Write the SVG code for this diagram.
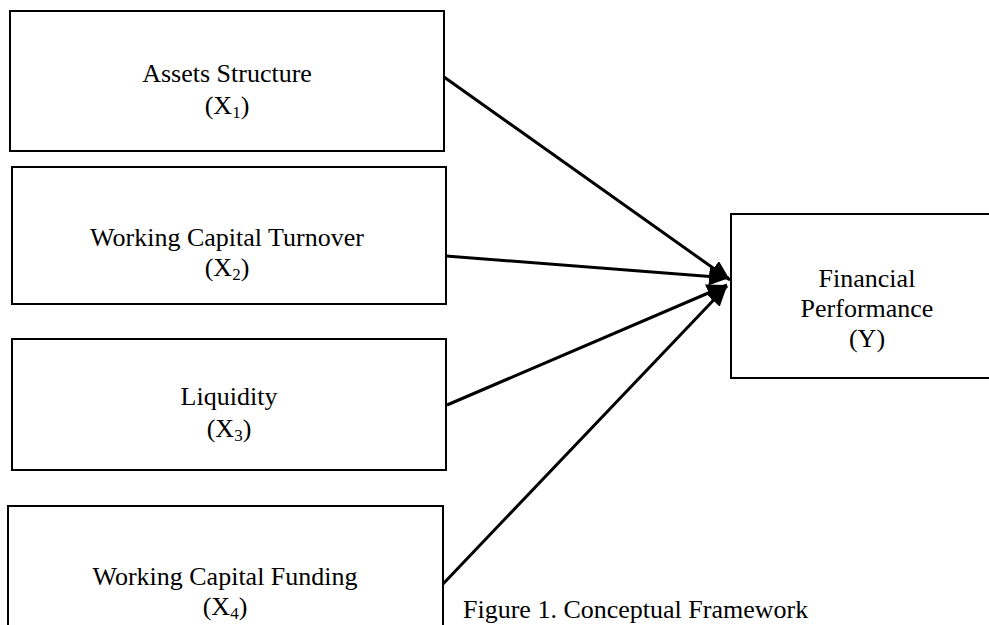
<svg xmlns="http://www.w3.org/2000/svg" width="989" height="625" viewBox="0 0 989 625">
<style>
.box{fill:#fff;stroke:#000;stroke-width:2}
.t{font-family:"Liberation Serif","Times New Roman",serif;font-size:26px;fill:#000;text-anchor:middle}
.s{font-size:17px}
.c{stroke:#000;stroke-width:3;fill:none}
</style>
<defs>
<marker id="ah" markerUnits="userSpaceOnUse" markerWidth="22" markerHeight="18" refX="20" refY="9" orient="auto">
<path d="M0,0 L20,9 L0,18 Z" fill="#000"/>
</marker>
</defs>
<rect width="989" height="625" fill="#fff"/>
<g id="x1">
<rect class="box" x="10" y="11" width="434" height="140"/>
<text class="t" x="227" y="82">Assets Structure</text>
<text class="t" x="227" y="114">(X<tspan class="s" dy="4">1</tspan><tspan dy="-4">)</tspan></text>
</g>
<g id="x2">
<rect class="box" x="12" y="167" width="434" height="137"/>
<text class="t" x="227" y="246">Working Capital Turnover</text>
<text class="t" x="227" y="276">(X<tspan class="s" dy="4">2</tspan><tspan dy="-4">)</tspan></text>
</g>
<g id="x3">
<rect class="box" x="12" y="339" width="434" height="131"/>
<text class="t" x="229" y="405">Liquidity</text>
<text class="t" x="229" y="437">(X<tspan class="s" dy="4">3</tspan><tspan dy="-4">)</tspan></text>
</g>
<g id="x4">
<rect class="box" x="8" y="506" width="435" height="130"/>
<text class="t" x="225" y="585">Working Capital Funding</text>
<text class="t" x="225" y="615">(X<tspan class="s" dy="4">4</tspan><tspan dy="-4">)</tspan></text>
</g>
<g id="y">
<rect class="box" x="731" y="214" width="270" height="164"/>
<text class="t" x="867" y="287">Financial</text>
<text class="t" x="867" y="317">Performance</text>
<text class="t" x="867" y="347">(Y)</text>
</g>
<g id="caption">
<text class="t" x="463" y="618" style="text-anchor:start">Figure 1. Conceptual Framework</text>
</g>
<g id="connectors">
<line class="c" x1="444" y1="77" x2="730" y2="280" marker-end="url(#ah)"/>
<line class="c" x1="446" y1="256" x2="729" y2="278" marker-end="url(#ah)"/>
<line class="c" x1="447" y1="405" x2="727" y2="285" marker-end="url(#ah)"/>
<line class="c" x1="443" y1="584" x2="727" y2="286" marker-end="url(#ah)"/>
</g>
</svg>
